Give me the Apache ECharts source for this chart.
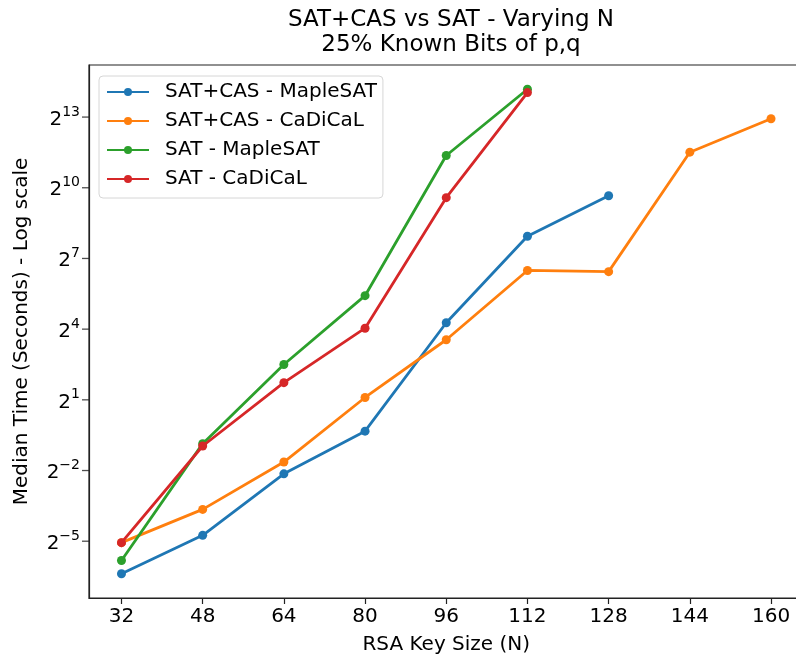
<!DOCTYPE html>
<html>
<head>
<meta charset="utf-8">
<script src="https://cdn.jsdelivr.net/npm/echarts@6/dist/echarts.min.js"></script>
<style>html,body{margin:0;padding:0;background:#fff;}#c{width:796px;height:661px;}</style>
</head>
<body>
<div id="c"></div>
<script>
// RSA key sizes (N)
const keySizes = [32, 48, 64, 80, 96, 112, 128, 144, 160];
// Median time in seconds, given as log2(seconds)
const satCasMaple  = [-6.38, -4.75, -2.14, -0.33, 4.27, 7.94, 9.66];
const satCasCadical = [-5.06, -3.65, -1.64, 1.10, 3.55, 6.49, 6.44, 11.51, 12.93];
const satMaple     = [-5.82, -0.86, 2.50, 5.42, 11.37, 14.18];
const satCadical   = [-5.06, -0.96, 1.73, 4.04, 9.58, 14.04];
const seriesNames = ['SAT+CAS - MapleSAT', 'SAT+CAS - CaDiCaL', 'SAT - MapleSAT', 'SAT - CaDiCaL'];
const yTickExps = [-5, -2, 1, 4, 7, 10, 13];
const colors = ['#1f77b4', '#ff7f0e', '#2ca02c', '#d62728'];

const font = 'DejaVu Sans';
const xMin = 25.6, xMax = 166.4, yMin = -7.41, yMax = 15.21;
function pairs(vals) { return vals.map((v, i) => [keySizes[i], v]); }
const allSeries = [satCasMaple, satCasCadical, satMaple, satCadical];

const lineSeries = allSeries.map((vals, i) => ({
  name: seriesNames[i], type: 'line', data: pairs(vals),
  symbol: 'circle', symbolSize: 9,
  lineStyle: { width: 2.8, color: colors[i] },
  itemStyle: { color: colors[i] },
  z: 2 + i
}));
// y-axis tick marks (outside the left spine)
lineSeries.push({
  name: 'yticks', type: 'scatter', data: yTickExps.map(e => [xMin, e]),
  symbol: 'rect', symbolSize: [7, 1.3], symbolOffset: [-3.5, 0],
  itemStyle: { color: '#222' }, clip: false, silent: true, z: 1
});

const chart = echarts.init(document.getElementById('c'));
chart.setOption({
  backgroundColor: '#fff',
  animation: false,
  color: colors,
  title: {
    text: 'SAT+CAS vs SAT - Varying N\n25% Known Bits of p,q',
    left: 446, top: 3, textAlign: 'center',
    textStyle: { fontFamily: font, fontSize: 23, fontWeight: 'normal', color: '#000', lineHeight: 25 }
  },
  legend: {
    orient: 'vertical',
    left: 99, top: 76,
    padding: [6, 6, 9, 7],
    itemWidth: 42, itemHeight: 10, itemGap: 9,
    backgroundColor: 'rgba(255,255,255,0.8)',
    borderColor: '#d6d6d6', borderWidth: 1, borderRadius: 4,
    textStyle: { fontFamily: font, fontSize: 20, lineHeight: 20, color: '#000', padding: [0, 0, 0, 11] },
    data: seriesNames
  },
  grid: {
    left: 89, top: 65, width: 714.5, bottom: 63,
    outerBoundsMode: 'none', containLabel: false,
    show: true, borderColor: '#222', borderWidth: 1.2, backgroundColor: 'transparent'
  },
  xAxis: {
    type: 'value', min: xMin, max: xMax,
    name: 'RSA Key Size (N)', nameLocation: 'middle', nameGap: 37,
    nameTextStyle: { fontFamily: font, fontSize: 20, color: '#000' },
    axisLine: { show: true, onZero: false, lineStyle: { color: '#222', width: 1.2 } },
    axisTick: { show: true, length: 6, lineStyle: { color: '#222', width: 1.2 }, customValues: keySizes },
    axisLabel: { fontFamily: font, fontSize: 20, color: '#000', margin: 9, customValues: keySizes },
    splitLine: { show: false }
  },
  yAxis: {
    type: 'value', min: yMin, max: yMax,
    name: 'Median Time (Seconds) - Log scale', nameLocation: 'middle', nameGap: 57,
    nameTextStyle: { fontFamily: font, fontSize: 20, color: '#000' },
    axisLine: { show: true, onZero: false, lineStyle: { color: '#222', width: 1.2 } },
    axisTick: { show: false },
    axisLabel: {
      margin: 9, customValues: yTickExps,
      formatter: v => '{b|2}{s|' + String(v).replace('-', '\u2212') + '}',
      rich: {
        b: { fontFamily: font, fontSize: 20, color: '#000', padding: [5, 0, 0, 0] },
        s: { fontFamily: font, fontSize: 14, color: '#000', padding: [0, 0, 10, 0] }
      }
    },
    splitLine: { show: false }
  },
  series: lineSeries
});
</script>
</body>
</html>
